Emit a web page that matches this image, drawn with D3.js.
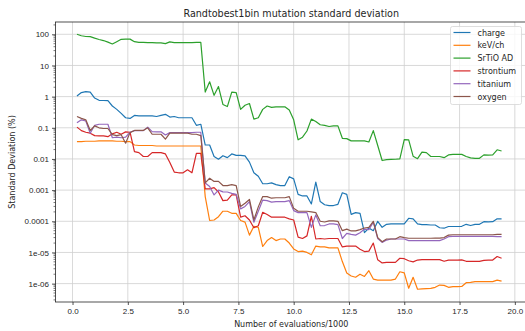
<!DOCTYPE html>
<html>
<head>
<meta charset="utf-8">
<script src="https://cdn.jsdelivr.net/npm/d3@7"></script>
<style>
  body { margin: 0; background: #fff; }
  svg { font-family: "DejaVu Sans", sans-serif; }
  .grid line { stroke: #cfcfcf; stroke-width: 0.8; }
  .tick text { font-size: 8px; fill: #262626; }
</style>
</head>
<body>
<div id="chart"></div>
<script>
// evaluations / 1000
const evals = [0.2,0.4,0.6,0.8,1.0,1.2,1.4,1.6,1.8,2.0,2.2,2.4,2.6,2.8,3.0,3.2,3.4,3.6,3.8,4.0,
  4.2,4.4,4.6,4.8,5.0,5.2,5.4,5.6,5.8,6.0,6.2,6.4,6.6,6.8,7.0,7.2,7.4,7.6,7.8,8.0,
  8.2,8.4,8.6,8.8,9.0,9.2,9.4,9.6,9.8,10.0,10.2,10.4,10.6,10.8,11.0,11.2,11.4,11.6,11.8,12.0,
  12.2,12.4,12.6,12.8,13.0,13.2,13.4,13.6,13.8,14.0,14.2,14.4,14.6,14.8,15.0,15.2,15.4,15.6,15.8,16.0,
  16.2,16.4,16.6,16.8,17.0,17.2,17.4,17.6,17.8,18.0,18.2,18.4,18.6,18.8,19.0,19.2,19.4];

const charge = [1.05,1.35,1.45,1.4,0.9,0.76,0.75,0.74,0.5,0.39,
  0.29,0.21,0.2,0.25,0.24,0.24,0.24,0.24,0.23,0.25,
  0.27,0.22,0.23,0.21,0.21,0.21,0.21,0.12,0.13,0.028,
  0.028,0.012,0.0098,0.0127,0.011,0.0145,0.013,0.013,0.0125,0.0079,
  0.0036,0.0028,0.0016,0.0016,0.0017,0.0015,0.0014,0.0014,0.0027,0.0023,
  7.3e-4,6.5e-4,6.5e-4,3.6e-4,1.8e-3,4.3e-4,3.4e-4,3.2e-4,3.2e-4,3.5e-4,
  8.2e-4,7.3e-4,1.66e-4,1.9e-4,1.8e-4,4.3e-5,6.1e-5,5e-5,1e-4,6.4e-5,
  8e-5,8.2e-5,8.2e-5,8.2e-5,8.2e-5,1.25e-4,1.2e-4,8.2e-5,7.8e-5,7.8e-5,
  7.6e-5,7.6e-5,6.2e-5,6e-5,6.8e-5,6.8e-5,6.8e-5,6.9e-5,8e-5,7.3e-5,
  8e-5,8e-5,9.7e-5,9.6e-5,9.7e-5,1.2e-4,1.2e-4];

const kevch = [0.036,0.036,0.037,0.037,0.037,0.038,0.038,0.038,0.038,0.037,
  0.037,0.036,0.036,0.028,0.027,0.027,0.027,0.027,0.026,0.026,
  0.026,0.026,0.026,0.026,0.026,0.026,0.026,0.026,0.026,6.2e-4,
  1.06e-4,1.1e-4,1.4e-4,2.1e-4,2.1e-4,1.8e-4,1.8e-4,1.06e-4,9.4e-5,3.6e-5,
  6.9e-5,6.4e-5,1.55e-5,2.4e-5,3e-5,2.4e-5,2.7e-5,2.7e-5,2e-5,1.3e-5,
  1.07e-5,1.1e-5,1e-5,8.4e-6,1.6e-5,1.5e-5,1.5e-5,1.4e-5,1.4e-5,1.4e-5,
  5.1e-6,2.2e-6,1.75e-6,1.6e-6,2e-6,1.7e-6,2.6e-6,1.4e-6,1.3e-6,1.3e-6,
  1.3e-6,1.3e-6,1.4e-6,2.4e-6,2.2e-6,7.1e-7,1.6e-6,6.6e-7,6.8e-7,6.9e-7,
  7e-7,7.6e-7,9e-7,8.8e-7,7.6e-7,8e-7,8e-7,8.1e-7,1.07e-6,1.1e-6,
  1.16e-6,1.16e-6,1.16e-6,1.16e-6,1.16e-6,1.3e-6,1.2e-6];

const srtio = [100,90,85,84,75,68,63,56,49,58,
  69,70,70,58,55,55,54,54,53,53,
  50,57,54,54,54,54,54,55,55,1.4,
  3.0,1.1,2.1,0.56,0.48,1.4,1.35,0.39,0.53,0.6,
  0.19,0.21,0.39,0.5,0.45,0.47,0.47,0.47,0.37,0.18,
  0.041,0.05,0.079,0.19,0.16,0.125,0.12,0.11,0.115,0.115,
  0.046,0.045,0.038,0.038,0.038,0.038,0.035,0.081,0.027,0.0089,
  0.0095,0.0097,0.0098,0.01,0.042,0.041,0.0123,0.0102,0.0165,0.016,
  0.012,0.012,0.012,0.011,0.0135,0.014,0.014,0.014,0.012,0.0108,
  0.0105,0.0105,0.0135,0.0133,0.0135,0.0197,0.018];

const strontium = [0.105,0.081,0.072,0.067,0.056,0.055,0.055,0.052,0.064,0.072,
  0.062,0.074,0.072,0.0172,0.016,0.012,0.012,0.016,0.016,0.016,
  0.0145,0.0077,0.0038,0.0036,0.0036,0.0045,0.0036,0.015,0.015,0.0011,
  0.0011,0.0012,8.7e-4,4.6e-4,4.8e-4,7e-4,7e-4,1.36e-4,1.5e-4,1.1e-4,
  6.2e-5,7.2e-5,1.95e-4,1.65e-4,1.35e-4,1.35e-4,1.35e-4,1.35e-4,1.2e-4,1.1e-4,
  3.1e-5,2.8e-5,3.4e-5,1.45e-4,2.7e-5,2.8e-5,2.7e-5,2.8e-5,2.8e-5,2.8e-5,
  1.5e-5,1.6e-5,1.6e-5,1.6e-5,1.27e-5,1.07e-5,1.1e-5,2e-5,5.8e-6,4.6e-6,
  4.8e-6,4.8e-6,4.8e-6,6.5e-6,6.3e-6,5.4e-6,5e-6,5.7e-6,5.9e-6,5.9e-6,
  5.9e-6,5.9e-6,5.9e-6,5.2e-6,5.7e-6,5.7e-6,5.7e-6,5.8e-6,5.2e-6,5.2e-6,
  5.2e-6,5.2e-6,5.6e-6,5.7e-6,5.7e-6,7.4e-6,6.5e-6];

const titanium = [0.145,0.18,0.165,0.067,0.12,0.13,0.13,0.13,0.048,0.05,
  0.048,0.05,0.072,0.081,0.081,0.081,0.105,0.075,0.074,0.074,
  0.059,0.07,0.07,0.07,0.07,0.07,0.07,0.072,0.072,0.0017,
  0.0013,7e-4,1e-3,8.8e-4,8.7e-4,7.9e-4,7.3e-4,2.5e-4,3e-4,4.3e-4,
  9.3e-5,2.1e-4,4.8e-4,4.6e-4,4.1e-4,4.3e-4,4.3e-4,4.3e-4,4.6e-4,2.2e-4,
  1.9e-4,1.9e-4,1.9e-4,6.4e-5,1.6e-4,7.2e-5,7.3e-5,8.2e-5,8.2e-5,7.8e-5,
  2.8e-5,4.1e-5,3.8e-5,3.6e-5,4.3e-5,5.6e-5,5.4e-5,9.4e-5,2.8e-5,2.1e-5,
  2.5e-5,2.7e-5,2.7e-5,2.7e-5,2.7e-5,2.4e-5,2.4e-5,2.4e-5,2.4e-5,2.4e-5,
  2.4e-5,2.4e-5,2.4e-5,2.7e-5,3.2e-5,3.3e-5,3.3e-5,3.3e-5,3.3e-5,3.3e-5,
  3.3e-5,3.3e-5,3.3e-5,3.3e-5,3.3e-5,3.2e-5,3.2e-5];

const oxygen = [0.23,0.2,0.18,0.082,0.115,0.1,0.095,0.095,0.06,0.056,
  0.06,0.032,0.07,0.082,0.082,0.082,0.1,0.062,0.062,0.062,
  0.043,0.067,0.067,0.067,0.067,0.067,0.062,0.062,0.056,0.0017,
  0.0024,0.0019,0.0019,0.0014,0.0014,0.0015,0.0014,3e-4,3.8e-4,5e-4,
  1.1e-4,2.9e-4,6.2e-4,6.2e-4,5.5e-4,5.7e-4,5.7e-4,5.7e-4,6.2e-4,2.6e-4,
  2.1e-4,2.1e-4,2.1e-4,2e-4,1.9e-4,1e-4,9.5e-5,1.03e-4,1.03e-4,1e-4,
  5e-5,5.6e-5,4.9e-5,4.9e-5,5.4e-5,6.1e-5,6.4e-5,1e-4,3e-5,2.2e-5,
  2.7e-5,2.7e-5,2.7e-5,3.2e-5,3e-5,2.85e-5,2.85e-5,2.85e-5,2.85e-5,2.85e-5,
  2.85e-5,2.9e-5,2.9e-5,3e-5,3.6e-5,3.7e-5,3.7e-5,3.7e-5,3.7e-5,3.7e-5,
  3.7e-5,3.7e-5,3.7e-5,3.7e-5,3.7e-5,3.8e-5,3.8e-5];

const seriesNames = ["charge", "keV/ch", "SrTiO AD", "strontium", "titanium", "oxygen"];
const seriesValues = [charge, kevch, srtio, strontium, titanium, oxygen];
const colors = ["#1f77b4", "#ff7f0e", "#2ca02c", "#d62728", "#9467bd", "#8c564b"];

const xTicks = [0, 2.5, 5, 7.5, 10, 12.5, 15, 17.5, 20];
const yTicks = [1e-6, 1e-5, 1e-4, 1e-3, 1e-2, 1e-1, 1, 10, 100];
const yTickLabels = ["1e-06", "1e-05", "0.0001", "0.001", "0.01", "0.1", "1", "10", "100"];

const width = 525, height = 331;
const margin = {top: 22, right: -2, bottom: 29, left: 55.5};
const plotW = width - margin.left - margin.right;
const plotH = height - margin.top - margin.bottom;

const svg = d3.select("#chart").append("svg")
    .attr("width", width)
    .attr("height", height);

const x = d3.scaleLinear().domain([-0.77, 20.55]).range([0, plotW]);
const y = d3.scaleLog().domain([2.57e-7, 2.48e2]).range([plotH, 0]);

const g = svg.append("g")
    .attr("transform", "translate(" + margin.left + "," + margin.top + ")");

// grid
g.append("g").attr("class", "grid")
    .selectAll("line").data(xTicks).enter().append("line")
    .attr("x1", d => x(d)).attr("x2", d => x(d))
    .attr("y1", 0).attr("y2", plotH);
g.append("g").attr("class", "grid")
    .selectAll("line").data(yTicks).enter().append("line")
    .attr("x1", 0).attr("x2", plotW)
    .attr("y1", d => y(d)).attr("y2", d => y(d));

// lines
const line = d3.line()
    .x((d, i) => x(evals[i]))
    .y(d => y(d));

seriesValues.forEach((vals, k) => {
    g.append("path")
        .datum(vals)
        .attr("fill", "none")
        .attr("stroke", colors[k])
        .attr("stroke-width", 1.2)
        .attr("stroke-linejoin", "round")
        .attr("d", line);
});

// axes
const xAxis = d3.axisBottom(x).tickValues(xTicks).tickFormat(d3.format(".1f"))
    .tickSizeOuter(0).tickSize(3).tickPadding(3);
g.append("g").attr("transform", "translate(0," + plotH + ")").call(xAxis)
    .call(a => a.select(".domain").remove());

// minor ticks on log axis
let minor = [];
yTicks.concat([1e-7]).forEach(dec => {
    for (let m = 2; m <= 9; m++) {
        const v = dec * m;
        if (v > y.domain()[0] && v < y.domain()[1]) minor.push(v);
    }
});
g.append("g").selectAll("line").data(minor).enter().append("line")
    .attr("x1", -2).attr("x2", 0)
    .attr("y1", d => y(d)).attr("y2", d => y(d))
    .attr("stroke", "#262626").attr("stroke-width", 0.6);

const yAxis = d3.axisLeft(y).tickValues(yTicks)
    .tickFormat((d, i) => yTickLabels[i])
    .tickSizeOuter(0).tickSize(3.5).tickPadding(3);
g.append("g").call(yAxis)
    .call(a => a.select(".domain").remove());

g.selectAll(".tick line").attr("stroke", "#262626").attr("stroke-width", 0.8);

// frame
g.append("rect")
    .attr("x", 0).attr("y", 0)
    .attr("width", plotW).attr("height", plotH)
    .attr("fill", "none")
    .attr("stroke", "#262626")
    .attr("stroke-width", 0.8);

// title and labels
svg.append("text")
    .attr("x", margin.left + plotW / 2).attr("y", 17)
    .attr("text-anchor", "middle")
    .style("font-size", "9.6px").style("fill", "#262626")
    .text("Randtobest1bin mutation standard deviation");

svg.append("text")
    .attr("x", margin.left + plotW / 2).attr("y", 327)
    .attr("text-anchor", "middle")
    .style("font-size", "8px").style("fill", "#262626")
    .text("Number of evaluations/1000");

svg.append("text")
    .attr("transform", "translate(15," + (margin.top + plotH / 2) + ") rotate(-90)")
    .attr("text-anchor", "middle")
    .style("font-size", "8px").style("fill", "#262626")
    .text("Standard Deviation (%)");

// legend
const legend = svg.append("g").attr("transform", "translate(450.5,26.5)");
legend.append("rect")
    .attr("width", 71).attr("height", 78).attr("rx", 2)
    .attr("fill", "#fff").attr("fill-opacity", 0.8)
    .attr("stroke", "#d6d6d6").attr("stroke-width", 0.8);
let items = legend.selectAll(".item").data(seriesNames).enter().append("g")
    .attr("transform", (d, i) => "translate(0," + (6 + i * 12.8) + ")");
items.append("line")
    .attr("x1", 3).attr("x2", 20)
    .attr("stroke", (d, i) => colors[i]).attr("stroke-width", 1.2);
items.append("text")
    .attr("x", 27).attr("y", 3)
    .style("font-size", "8px").style("fill", "#262626")
    .text(d => d);
</script>
</body>
</html>
